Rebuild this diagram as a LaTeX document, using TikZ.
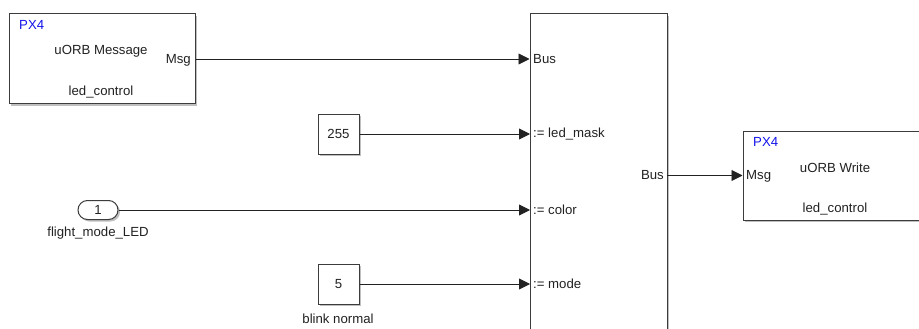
\documentclass[tikz,border=0pt]{standalone}
\usepackage{fontspec}
\setmainfont{Liberation Sans}
\usetikzlibrary{arrows.meta,shadows,positioning}
\definecolor{txt}{RGB}{34,34,34}
\definecolor{pxblue}{RGB}{20,20,235}
\definecolor{edge}{RGB}{60,60,60}
\tikzset{
  blk/.style={draw=edge, line width=1pt, fill=white, inner sep=0pt,
    drop shadow={shadow xshift=2pt, shadow yshift=-2pt, opacity=1, fill=black!25}},
  lbl/.style={text=txt, inner sep=0pt, font=\fontsize{13.2}{15}\selectfont},
  pxl/.style={text=pxblue, inner sep=0pt, font=\fontsize{13.2}{15}\selectfont},
  sig/.style={draw=txt, line width=0.9pt, -{Triangle[length=11pt,width=11pt]}},
}
\begin{document}
\begin{tikzpicture}[x=1pt,y=-1pt]
\useasboundingbox (0,0) rectangle (919,329);
\clip (0,0) rectangle (919,329);
\fill[white] (0,0) rectangle (919,329);

% uORB Message block
\node[blk, minimum width=186pt, minimum height=90pt] (msgblk) at (102,59) {};
\node[pxl, anchor=west] (msgpx) at (19,25) {PX4};
\node[lbl] (msgtitle) at (101,51) {uORB Message};
\node[lbl, anchor=east] (msgport) at (191,60) {Msg};
\node[lbl] (msgtopic) at (101,92) {led\_control};

% Bus creator / assignment block
\node[blk, minimum width=137pt, minimum height=330pt] (bc) at (598.5,179) {};
\coordinate (bcin1) at (bc.west |- msgblk.east);
\coordinate (bcin2) at (530,134);
\coordinate (bcin3) at (530,210);
\coordinate (bcin4) at (530,284);
\coordinate (bcout) at (667,175.5);
\node[lbl, anchor=west] (bcl1) at (533,59) {Bus};
\node[lbl, anchor=west] (bcl2) at (533,134) {:= led\_mask};
\node[lbl, anchor=west] (bcl3) at (533,210) {:= color};
\node[lbl, anchor=west] (bcl4) at (533,284) {:= mode};
\node[lbl, anchor=east] (bcl5) at (664,175) {Bus};

% Constant 255
\node[blk, lbl, minimum width=41pt, minimum height=40pt] (c255) at (338.5,134) {255};
% Inport 1
\node[blk, lbl, minimum width=40pt, minimum height=19pt, rounded corners=9.5pt] (in1) at (98,210) {1};
\node[lbl] (in1name) at (98,233) {flight\_mode\_LED};
% Constant 5
\node[blk, lbl, minimum width=41pt, minimum height=40pt] (c5) at (338.5,284) {5};
\node[lbl] (c5name) at (338,319) {blink normal};

% uORB Write block
\node[blk, minimum width=190pt, minimum height=89pt] (wr) at (838,175.5) {};
\node[pxl, anchor=west] (wrpx) at (753,142) {PX4};
\node[lbl] (wrtitle) at (835,168) {uORB Write};
\node[lbl, anchor=west] (wrport) at (746,176) {Msg};
\node[lbl] (wrtopic) at (835,209) {led\_control};

% signals
\draw[sig] (msgblk.east) -- (bcin1);
\draw[sig] (c255.east) -- (bcin2);
\draw[sig] (in1.east) -- (bcin3);
\draw[sig] (c5.east) -- (bcin4);
\draw[sig] (bcout) -- (wr.west);
\end{tikzpicture}
\end{document}
